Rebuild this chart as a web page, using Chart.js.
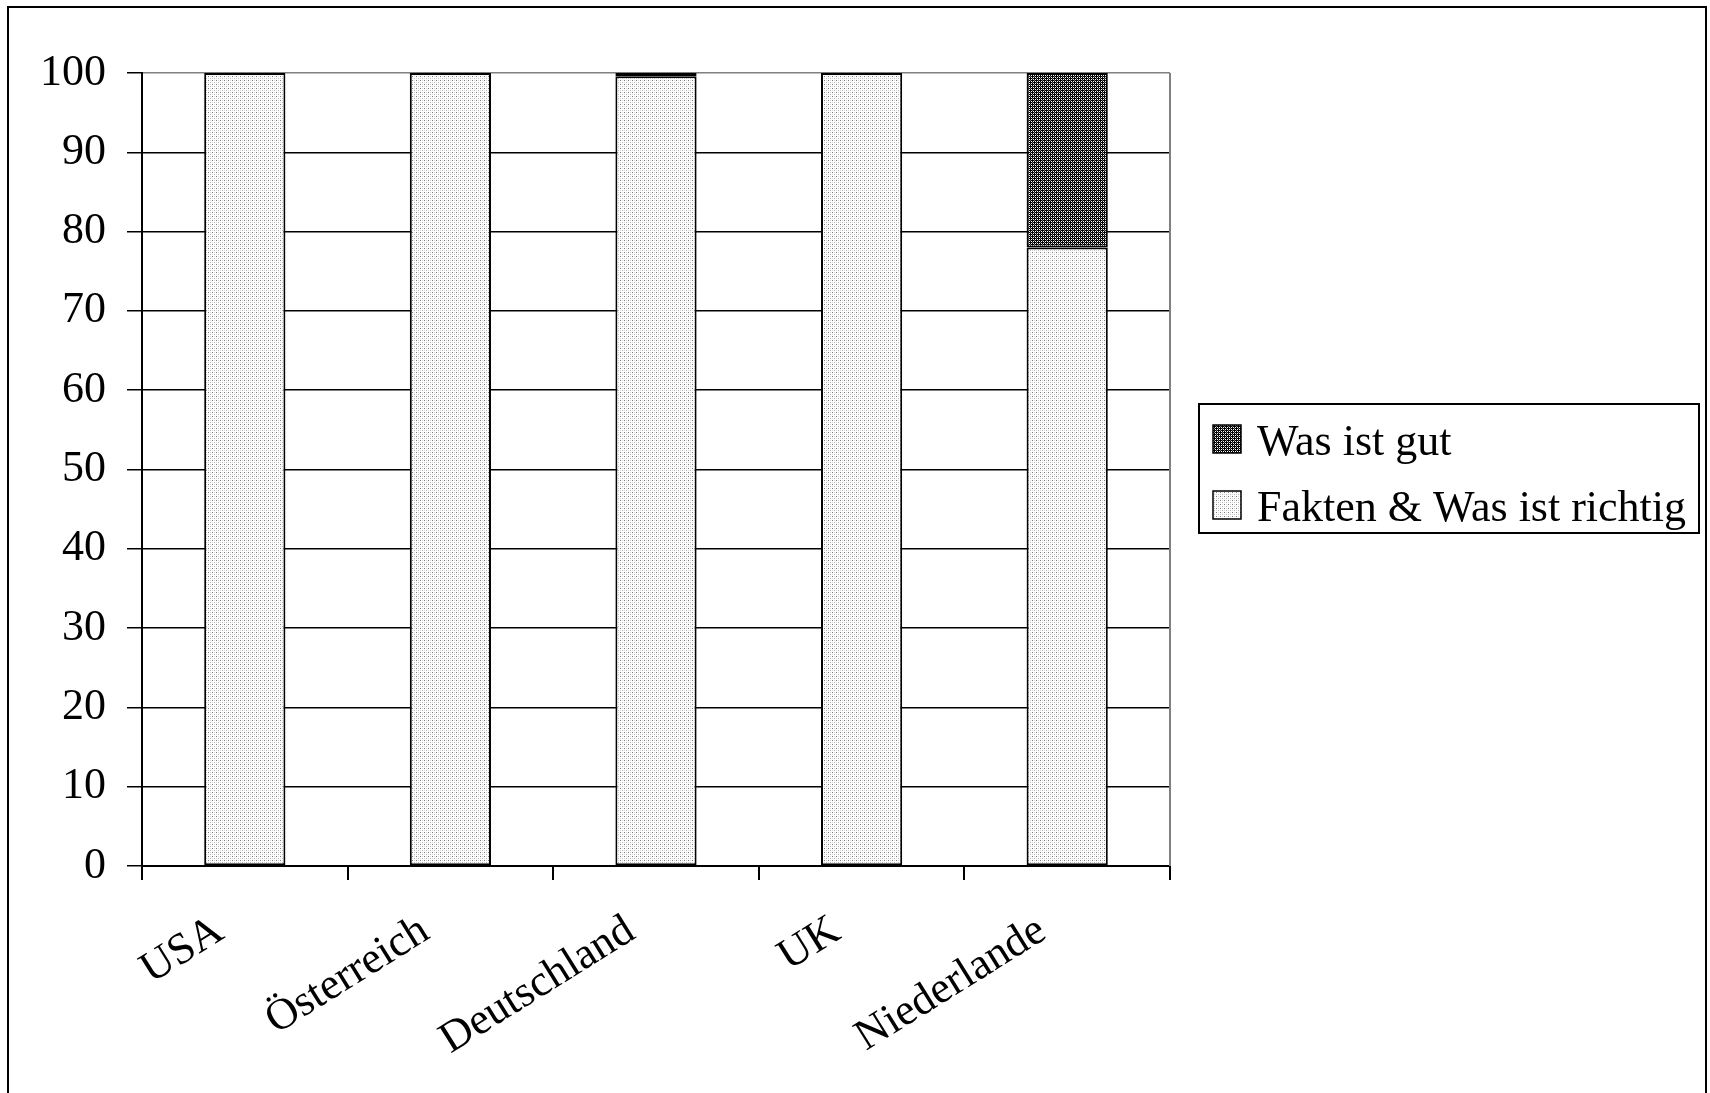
<!DOCTYPE html>
<html><head><meta charset="utf-8">
<script src="https://cdn.jsdelivr.net/npm/chart.js@4/dist/chart.umd.min.js"></script>
<style>
html,body{margin:0;padding:0;background:#fff;overflow:hidden;}
#frame{position:absolute;left:7px;top:6px;width:1700px;height:1120px;border:2px solid #000;box-sizing:border-box;}
#c{position:absolute;left:0;top:0;}
</style></head><body>
<div id="frame"></div>
<canvas id="c" width="1710" height="1093"></canvas>
<script>
const categories = ['USA', 'Österreich', 'Deutschland', 'UK', 'Niederlande'];
const faktenValues = [100, 100, 99.6, 100, 78];
const gutValues = [0, 0, 0.4, 0, 22];
const yTickLabels = ['0','10','20','30','40','50','60','70','80','90','100'];
const seriesLabels = ['Fakten & Was ist richtig', 'Was ist gut'];

function makePattern(size, base, dots) {
  const c = document.createElement('canvas');
  c.width = size; c.height = size;
  const x = c.getContext('2d');
  x.fillStyle = base; x.fillRect(0, 0, size, size);
  dots.forEach(d => { x.fillStyle = d[2]; x.fillRect(d[0], d[1], 1, 1); });
  return x.createPattern(c, 'repeat');
}
const ctx = document.getElementById('c').getContext('2d');
const lightPattern = makePattern(4, '#ffffff', [[0,0,'#7a7a7a'],[2,2,'#b8b8b8'],[2,0,'#dcdcdc'],[0,2,'#dcdcdc']]);
const darkPattern = makePattern(4, '#000000', [[1,1,'#ffffff'],[3,3,'#ffffff'],[1,3,'#ffffff'],[3,1,'#ffffff'],[0,2,'#707070'],[2,0,'#707070']]);

const FONT = '"Liberation Serif", "Times New Roman", serif';

const framePlugin = {
  id: 'framePlugin',
  beforeDatasetsDraw(chart) {
    const a = chart.chartArea, c = chart.ctx;
    c.save();
    c.strokeStyle = '#808080'; c.lineWidth = 2;
    c.beginPath(); c.moveTo(a.right, a.top); c.lineTo(a.right, a.bottom); c.stroke();
    c.restore();
  },
  afterDraw(chart) {
    const c = chart.ctx;
    c.save();
    c.lineWidth = 2; c.strokeStyle = '#000';
    c.strokeRect(1199, 404, 500, 129);
    const items = chart.data.datasets.slice().reverse();
    items.forEach((ds, i) => {
      const y = 425 + i * 66;
      c.fillStyle = ds.backgroundColor; c.fillRect(1213, y, 28, 28);
      c.lineWidth = 1.5; c.strokeStyle = '#000'; c.strokeRect(1213, y, 28, 28);
      c.fillStyle = '#000'; c.font = '44px ' + FONT; c.textBaseline = 'alphabetic'; c.textAlign = 'left';
      c.fillText(ds.label, 1257, y + 30);
    });
    c.restore();
  }
};

new Chart(ctx, {
  type: 'bar',
  data: {
    labels: categories,
    datasets: [
      { label: seriesLabels[0], data: faktenValues, backgroundColor: lightPattern, borderColor: '#000', borderWidth: 2, borderSkipped: false },
      { label: seriesLabels[1], data: gutValues, backgroundColor: darkPattern, borderColor: '#000', borderWidth: 2, borderSkipped: false }
    ]
  },
  options: {
    responsive: false,
    devicePixelRatio: 1,
    animation: false,
    datasets: { bar: { categoryPercentage: 1, barPercentage: 0.395 } },
    layout: { padding: { left: 0, top: 73, right: 540, bottom: 0 } },
    plugins: { legend: { display: false }, tooltip: { enabled: false } },
    scales: {
      x: {
        stacked: true,
        grid: { drawOnChartArea: false, drawTicks: true, tickLength: 14, color: '#000', tickColor: '#000', lineWidth: 2, offset: true },
        border: { color: '#000', width: 2 },
        ticks: { color: '#000', font: { family: FONT, size: 44 }, minRotation: 32, maxRotation: 32, autoSkip: false, padding: 25, labelOffset: -25 },
        afterFit(s) { s.height = 1093 - 866; }
      },
      y: {
        stacked: true, min: 0, max: 100,
        grid: { color: c => (c.tick && c.tick.value === 100 ? '#808080' : '#000'), tickColor: '#000', lineWidth: 1.5, tickLength: 15 },
        border: { color: '#000', width: 2 },
        ticks: { stepSize: 10, color: '#000', font: { family: FONT, size: 44 }, padding: 21,
          callback: (v, i) => yTickLabels[i] },
        afterFit(s) { s.width = 142; }
      }
    }
  },
  plugins: [framePlugin]
});
</script>
</body></html>
